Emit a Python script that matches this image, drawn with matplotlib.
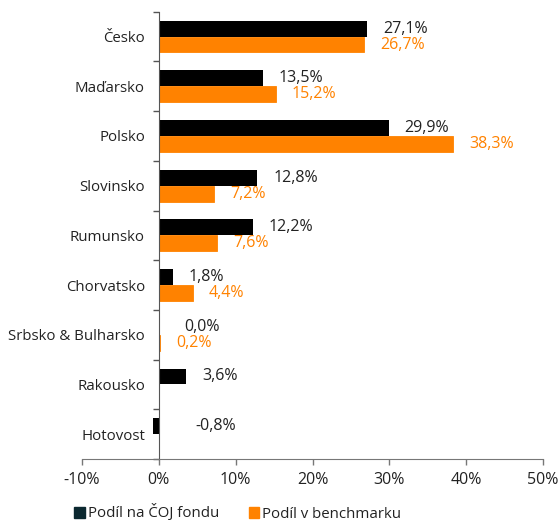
import matplotlib
matplotlib.use("Agg")
import matplotlib.pyplot as plt
from matplotlib.patches import Patch
import numpy as np

plt.rcParams['font.family'] = ['Open Sans', 'DejaVu Sans']

categories = ["Česko", "Maďarsko", "Polsko", "Slovinsko", "Rumunsko",
              "Chorvatsko", "Srbsko & Bulharsko", "Rakousko", "Hotovost"]
fund = [27.1, 13.5, 29.9, 12.8, 12.2, 1.8, 0.0, 3.6, -0.8]
bench = [26.7, 15.2, 38.3, 7.2, 7.6, 4.4, 0.2, None, None]
series_names = ["Podíl na ČOJ fondu", "Podíl v benchmarku"]
xticks = [-10, 0, 10, 20, 30, 40, 50]

BLACK = "#000000"
ORANGE = "#FF8200"
TXT = "#222222"
FS = 11.5
YFS = 10.8

fig = plt.figure(figsize=(5.6, 5.24), dpi=100)
ax = fig.add_axes([82/560, 1-459/524, (543-82)/560, (459-11.7)/524])

n = len(categories)
y = np.arange(n)
h = 0.32
ax.barh(y - h/2, fund, height=h, color=BLACK, zorder=2)
bmask = [v is not None for v in bench]
ax.barh(y[bmask] + h/2, [v for v in bench if v is not None], height=h, color=ORANGE,
        edgecolor=ORANGE, linewidth=0.6, zorder=2)

def fmt(v):
    return f"{v:.1f}%".replace(".", ",")

# offsets in points (1 pt = 1.39 px at 100 dpi)
for i, v in enumerate(fund):
    off = 11.5 if v > 0.5 else (18.5 if v >= 0 else 26.5)
    ax.annotate(fmt(v), (max(v, 0), y[i] - h/2), xytext=(off, 0), textcoords="offset points",
                va="center", ha="left", color=TXT, fontsize=FS)
for i, v in enumerate(bench):
    if v is None:
        continue
    ax.annotate(fmt(v), (max(v, 0), y[i] + h/2), xytext=(11.5, 0), textcoords="offset points",
                va="center", ha="left", color=ORANGE, fontsize=FS)

ax.set_xlim(-10, 50)
ax.set_ylim(n - 0.5, -0.5)
ax.set_xticks(xticks)
ax.set_xticklabels([f"{t}%" for t in xticks])
ax.tick_params(axis='x', length=4, color="#777777", width=1, pad=5,
               labelsize=FS, labelcolor=TXT)

ax.set_yticks(np.arange(n + 1) - 0.5)
ax.set_yticklabels([])
ax.set_yticks(y, minor=True)
ax.set_yticklabels(categories, minor=True)
ax.tick_params(axis='y', which='minor', length=0, pad=10, labelsize=YFS, labelcolor=TXT)
ax.tick_params(axis='y', which='major', length=4, color="#555555", width=1)

ax.spines['left'].set_position(('data', 0))
ax.spines['left'].set_color("#555555")
ax.spines['bottom'].set_color("#777777")
for s in ['top', 'right']:
    ax.spines[s].set_visible(False)

handles = [Patch(color="#0B2830"), Patch(color=ORANGE)]
fig.legend(handles, series_names, loc="center left", bbox_to_anchor=(74/560, 1-513/524),
           ncol=2, frameon=False, fontsize=YFS, handlelength=0.7, handleheight=0.7,
           handletextpad=0.2, columnspacing=2.0, labelcolor=TXT,
           borderaxespad=0, borderpad=0)

fig.savefig("out.png", dpi=100)
